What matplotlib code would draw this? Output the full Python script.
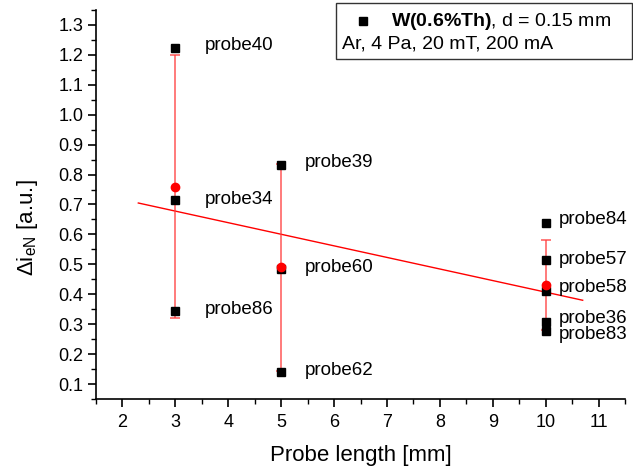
import matplotlib
matplotlib.use("Agg")
import matplotlib.pyplot as plt
from matplotlib.ticker import MultipleLocator
from matplotlib.patches import Rectangle

plt.rcParams['font.family'] = ['Liberation Sans', 'DejaVu Sans']
plt.rcParams['mathtext.fontset'] = 'custom'
plt.rcParams['mathtext.rm'] = 'Liberation Sans'
plt.rcParams['mathtext.it'] = 'Liberation Sans:italic'
plt.rcParams['mathtext.bf'] = 'Liberation Sans:bold'

# data: individual probes
probe_names = ['probe40', 'probe34', 'probe86',
               'probe39', 'probe60', 'probe62',
               'probe84', 'probe57', 'probe58', 'probe36', 'probe83']
probe_len = [3, 3, 3, 5, 5, 5, 10, 10, 10, 10, 10]
probe_val = [1.222, 0.714, 0.343, 0.832, 0.486, 0.140,
             0.639, 0.514, 0.411, 0.307, 0.277]

# group means with standard deviation
mean_len = [3, 5, 10]
mean_val = [0.760, 0.490, 0.432]
mean_err = [0.440, 0.346, 0.150]

# linear fit (end points)
fit_x = [2.3, 10.7]
fit_y = [0.705, 0.380]

W, H = 633, 470
fig = plt.figure(figsize=(W/100, H/100), dpi=100)
ax = fig.add_axes([96/W, 1-399/H, (625-96)/W, (399-10)/H])

ax.plot(fit_x, fit_y, color='red', lw=1.0, zorder=2)
ax.errorbar(mean_len, mean_val, yerr=mean_err, fmt='none', ecolor='#ff3b3b',
            elinewidth=1.1, capsize=3.6, capthick=1.1, alpha=0.85, zorder=3)
ax.plot(probe_len, probe_val, 's', color='black', ms=5.2, zorder=4)
ax.plot(mean_len, mean_val, 'o', color='red', ms=6.0, zorder=5)

# label positions (text anchor)
label_dx = {3: 0.55, 5: 0.45, 10: 0.25}
label_y = [1.233, 0.718, 0.350, 0.840, 0.490, 0.146,
           0.650, 0.516, 0.423, 0.320, 0.264]
for name, xv, ly in zip(probe_names, probe_len, label_y):
    ax.text(xv + label_dx[xv], ly, name, fontsize=13.5, va='center', ha='left')

ax.set_xlim(1.5, 11.5)
ax.set_ylim(0.05, 1.35)
ax.xaxis.set_minor_locator(MultipleLocator(0.5))
ax.yaxis.set_minor_locator(MultipleLocator(0.05))
ax.set_xticks([2, 3, 4, 5, 6, 7, 8, 9, 10, 11])
ax.set_yticks([0.1 * i for i in range(1, 14)])
ax.set_yticklabels([f'{0.1*i:.1f}' for i in range(1, 14)])
ax.tick_params(which='major', direction='out', length=6, width=1.2, labelsize=13, pad=3)
ax.tick_params(axis='x', which='major', pad=5)
ax.tick_params(which='minor', direction='out', length=3.5, width=1.0)
for s in ['top', 'right']:
    ax.spines[s].set_visible(False)
for s in ['left', 'bottom']:
    ax.spines[s].set_linewidth(1.2)

ax.set_xlabel('Probe length [mm]', fontsize=16)
ax.xaxis.set_label_coords(0.5, (399-445)/389)
ax.set_ylabel(r'$\Delta$i$_{\mathregular{eN}}$ [a.u.]', fontsize=16)
ax.yaxis.set_label_coords((40-96)/529, (399-228)/389)

# legend box (figure pixel coordinates)
def fx(px):
    return px / W

def fy(py):
    return 1 - py / H

fig.patches.append(Rectangle((fx(336), fy(59)), fx(632) - fx(336), fy(3) - fy(59),
                             transform=fig.transFigure, fill=False,
                             edgecolor='#333333', lw=1.0))
fig.lines.append(plt.Line2D([fx(363)], [fy(21)], marker='s', color='black',
                            ms=6, transform=fig.transFigure))
fig.text(fx(391), fy(21), r'$\mathbf{W(0.6\%Th)}$, d = 0.15 mm', fontsize=14,
         va='center', ha='left')
fig.text(fx(342), fy(44), 'Ar, 4 Pa, 20 mT, 200 mA', fontsize=14,
         va='center', ha='left')

fig.savefig('out.png', dpi=100)
